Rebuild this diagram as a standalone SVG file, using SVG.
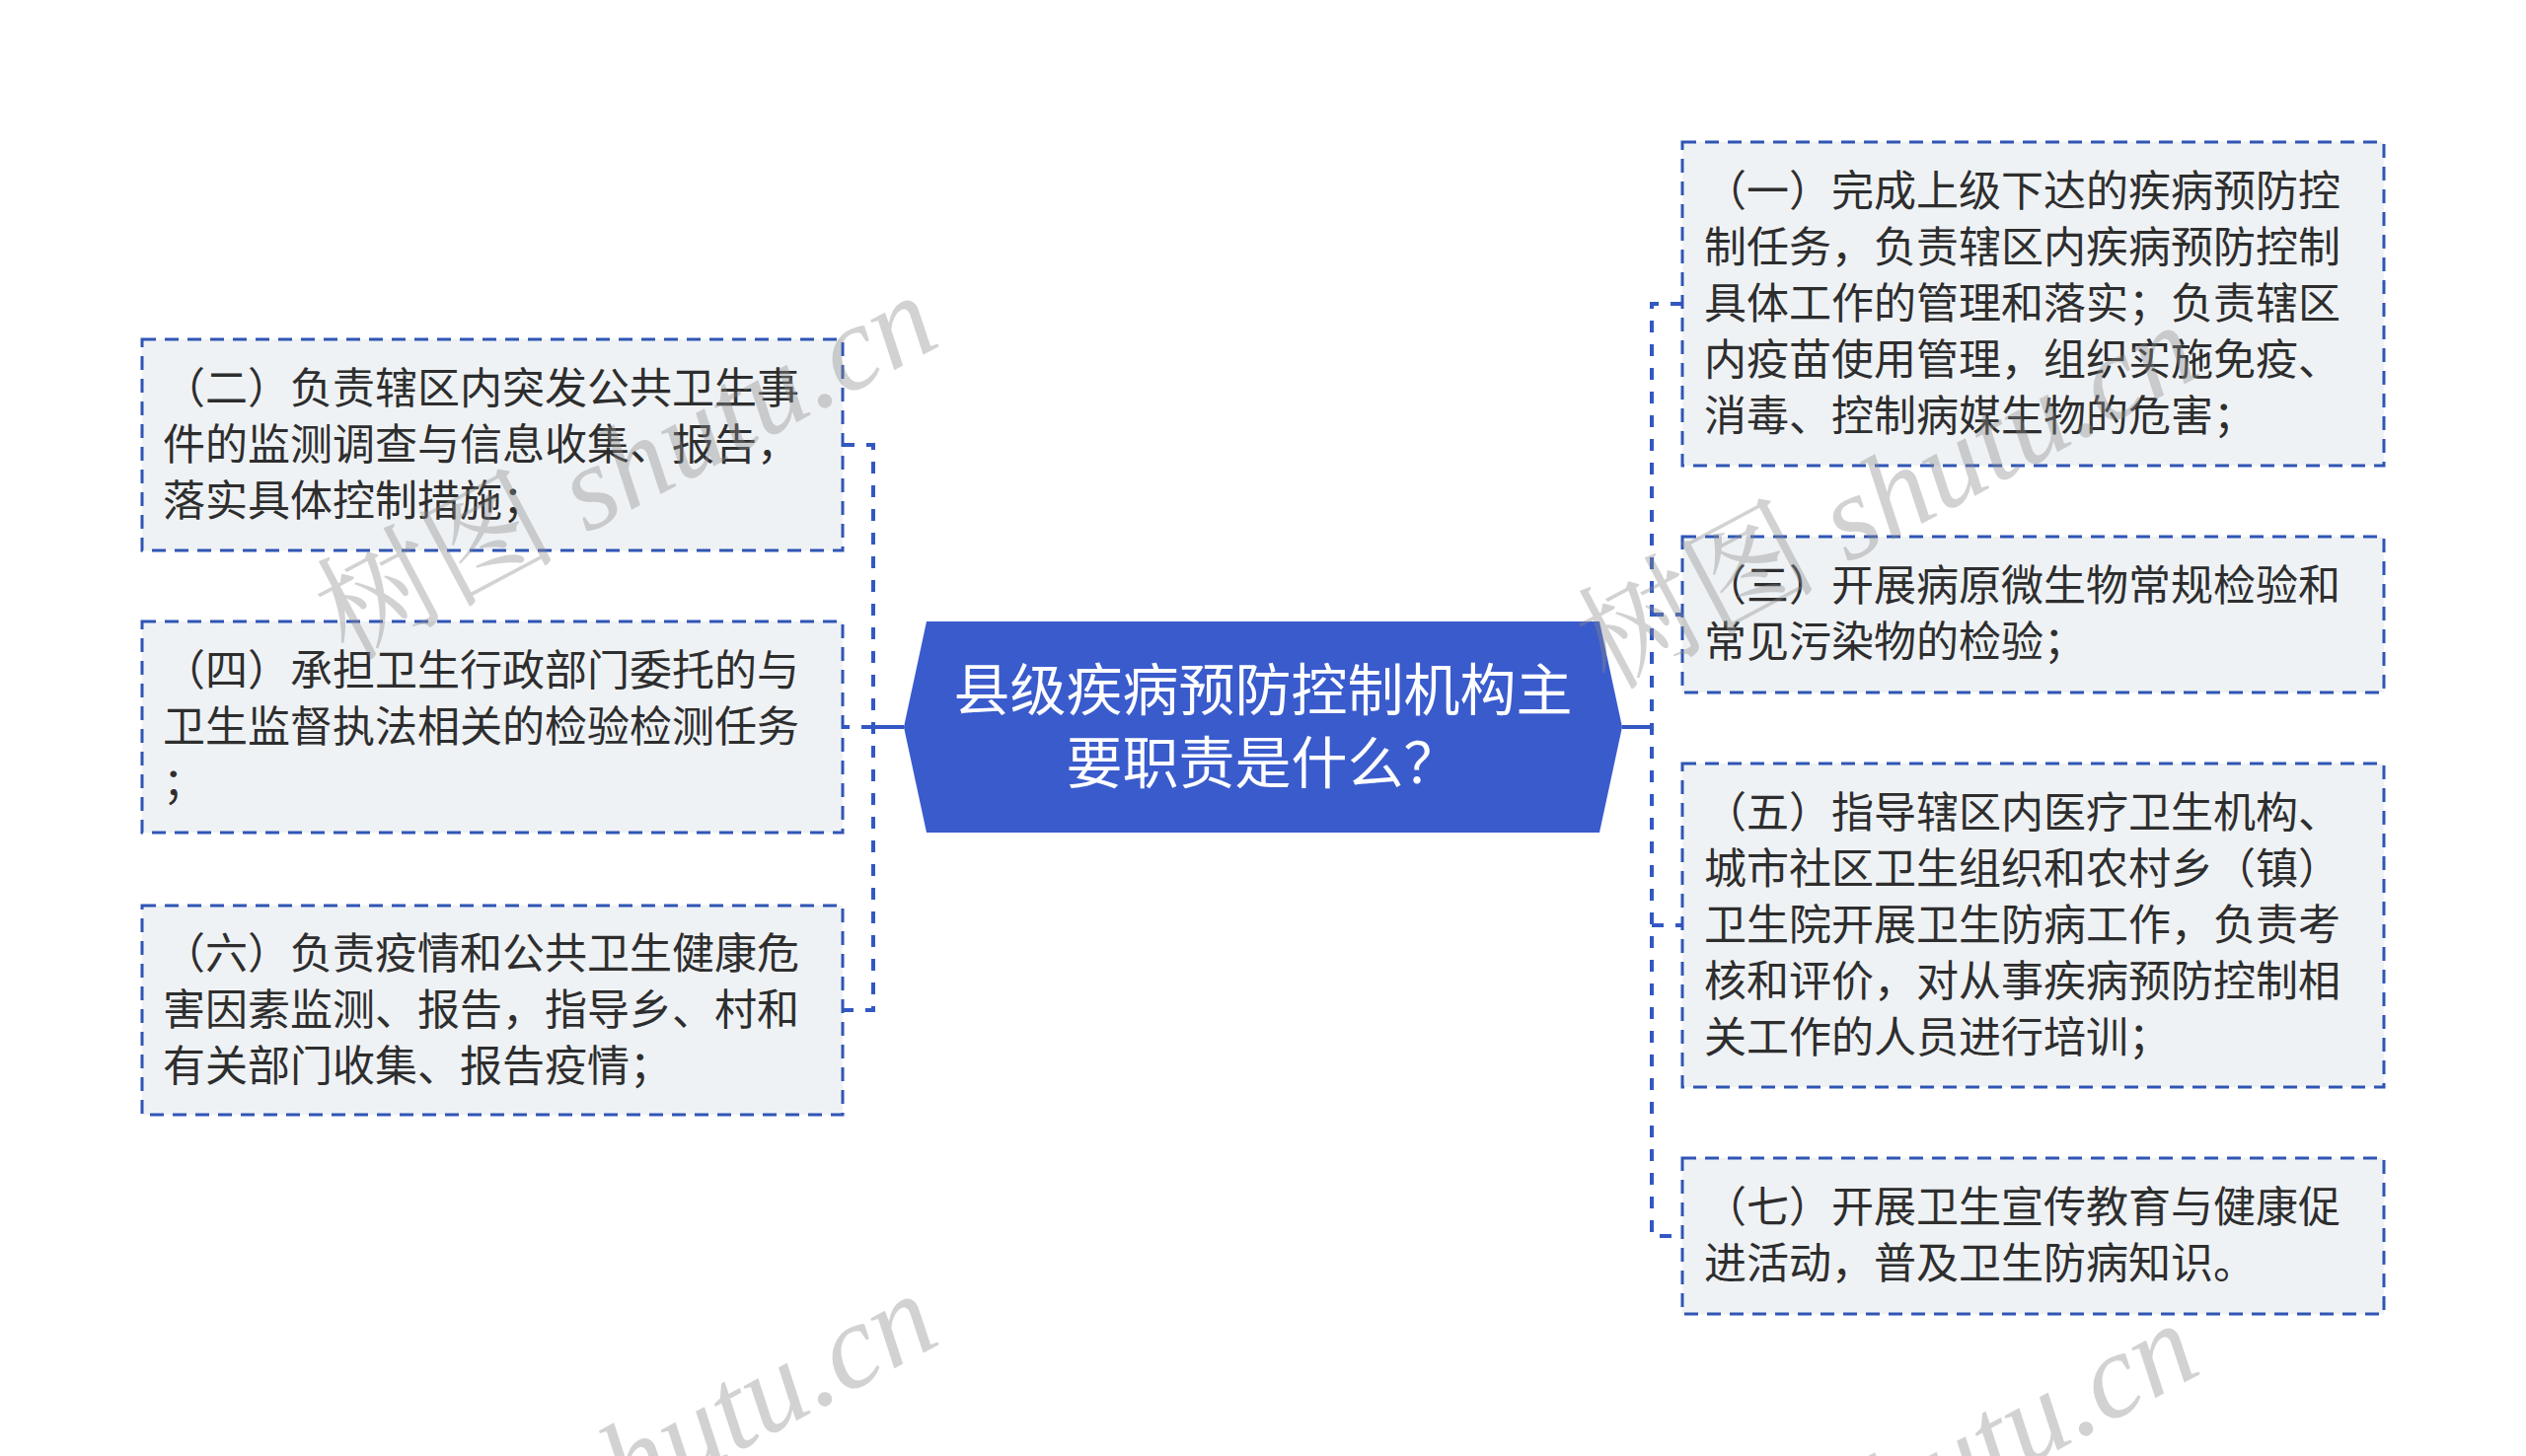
<svg xmlns="http://www.w3.org/2000/svg" width="2560" height="1476" viewBox="0 0 2560 1476">
<style>
.box{fill:#eff2f5;stroke:#2f55b5;stroke-width:3;stroke-dasharray:14 9}
.t{font-family:"Noto Sans CJK SC","Noto Sans",sans-serif;font-size:43px;fill:#2e2e2e}
.title{font-family:"Noto Sans CJK SC","Noto Sans",sans-serif;font-size:57px;fill:#ffffff;text-anchor:middle}
.conn{fill:none;stroke:#3358c4;stroke-width:4;stroke-dasharray:12 12}
.solid{fill:none;stroke:#3358c4;stroke-width:4}
.wm{font-family:"Liberation Serif","Noto Serif CJK SC","Noto Sans CJK SC",serif;font-size:122px;fill:#8a8a8a;opacity:0.38}
.wm .en{font-style:italic}
</style>
<rect width="2560" height="1476" fill="#ffffff"/>
<g id="connectors">
<path class="solid" d="M916,737 H885"/>
<path class="conn" d="M854,451 H885 V1024 H854"/>
<path class="conn" d="M885,737 H854"/>
<path class="solid" d="M1644,737 H1674"/>
<path class="conn" d="M1705,308 H1674 V1253 H1705"/>
<path class="conn" d="M1674,623 H1705"/>
<path class="conn" d="M1674,938 H1705"/>
</g>
<g id="center">
<polygon points="916,737 939,630 1621,630 1644,737 1621,844 939,844" fill="#3a5bcc"/>
<text class="title" x="1280" y="720">县级疾病预防控制机构主</text>
<text class="title" x="1280" y="794">要职责是什么？</text>
</g>
<g id="n2">
<rect class="box" x="144" y="344" width="710" height="214"/>
<text class="t" x="165" y="409">（二）负责辖区内突发公共卫生事</text>
<text class="t" x="165" y="466">件的监测调查与信息收集、报告，</text>
<text class="t" x="165" y="523">落实具体控制措施；</text>
</g>
<g id="n4">
<rect class="box" x="144" y="630" width="710" height="214"/>
<text class="t" x="165" y="695">（四）承担卫生行政部门委托的与</text>
<text class="t" x="165" y="752">卫生监督执法相关的检验检测任务</text>
<text class="t" x="165" y="809">；</text>
</g>
<g id="n6">
<rect class="box" x="144" y="918" width="710" height="212"/>
<text class="t" x="165" y="982">（六）负责疫情和公共卫生健康危</text>
<text class="t" x="165" y="1039">害因素监测、报告，指导乡、村和</text>
<text class="t" x="165" y="1096">有关部门收集、报告疫情；</text>
</g>
<g id="n1">
<rect class="box" x="1705" y="144" width="711" height="328"/>
<text class="t" x="1727" y="209">（一）完成上级下达的疾病预防控</text>
<text class="t" x="1727" y="266">制任务，负责辖区内疾病预防控制</text>
<text class="t" x="1727" y="323">具体工作的管理和落实；负责辖区</text>
<text class="t" x="1727" y="380">内疫苗使用管理，组织实施免疫、</text>
<text class="t" x="1727" y="437">消毒、控制病媒生物的危害；</text>
</g>
<g id="n3">
<rect class="box" x="1705" y="544" width="711" height="158"/>
<text class="t" x="1727" y="609">（三）开展病原微生物常规检验和</text>
<text class="t" x="1727" y="666">常见污染物的检验；</text>
</g>
<g id="n5">
<rect class="box" x="1705" y="774" width="711" height="328"/>
<text class="t" x="1727" y="839">（五）指导辖区内医疗卫生机构、</text>
<text class="t" x="1727" y="896">城市社区卫生组织和农村乡（镇）</text>
<text class="t" x="1727" y="953">卫生院开展卫生防病工作，负责考</text>
<text class="t" x="1727" y="1010">核和评价，对从事疾病预防控制相</text>
<text class="t" x="1727" y="1067">关工作的人员进行培训；</text>
</g>
<g id="n7">
<rect class="box" x="1705" y="1174" width="711" height="158"/>
<text class="t" x="1727" y="1239">（七）开展卫生宣传教育与健康促</text>
<text class="t" x="1727" y="1296">进活动，普及卫生防病知识。</text>
</g>
<g id="watermarks">
<text class="wm" transform="translate(352,670) rotate(-28)">树图 <tspan class="en">shutu.cn</tspan></text>
<text class="wm" transform="translate(1630,700) rotate(-28)">树图 <tspan class="en">shutu.cn</tspan></text>
<text class="wm" transform="translate(352,1682) rotate(-28)">树图 <tspan class="en">shutu.cn</tspan></text>
<text class="wm" transform="translate(1630,1712) rotate(-28)">树图 <tspan class="en">shutu.cn</tspan></text>
</g>
</svg>
